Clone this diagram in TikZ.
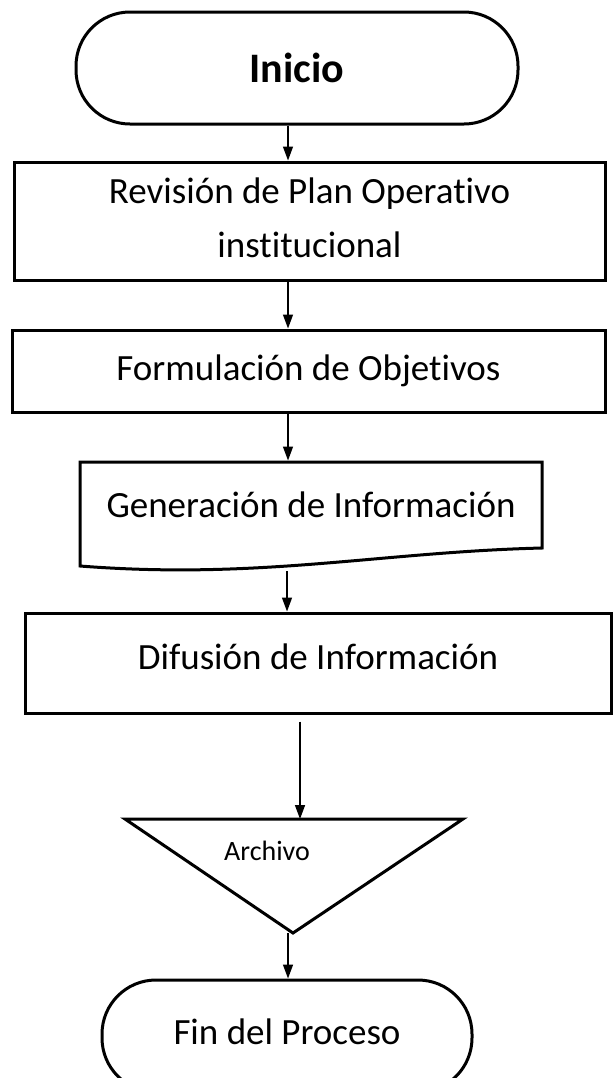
\documentclass[tikz,border=0pt]{standalone}
\usepackage{fontspec}
\setmainfont{Carlito}[Ligatures=NoCommon]
\usetikzlibrary{arrows.meta, positioning}

\begin{document}
\begin{tikzpicture}[x=0.5pt, y=-0.5pt,
    term/.style={rectangle, rounded corners=27pt, draw=black, line width=1.5pt, minimum height=56pt, inner sep=0pt, font=\fontsize{18.5pt}{22pt}\selectfont},
    box/.style={rectangle, draw=black, line width=1.5pt, inner sep=0pt, align=center, font=\fontsize{18.5pt}{22pt}\selectfont},
    shp/.style={draw=black, line width=1.5pt, line join=miter},
    arr/.style={-{Triangle[width=5pt, length=7pt]}, line width=0.75pt}
]
    \useasboundingbox (0,0) rectangle (613,1078);
    \coordinate (spine) at (288,0);

    % Start
    \node[term, minimum width=221pt, font=\fontsize{21pt}{24pt}\selectfont\bfseries] (inicio) at (297,68) {Inicio};

    % Process steps
    \node[box, minimum width=295.5pt, minimum height=59pt, text depth=3pt] (rev) at (309.5,221) {Revisión de Plan Operativo\\[5pt]institucional};
    \node[box, minimum width=296.5pt, minimum height=41pt] (form) at (308.5,371) {Formulación de Objetivos};

    % Document shape
    \draw[shp] (80,462) -- (542,462) -- (542,548) .. controls (380,552) and (260,580) .. (80,566) -- cycle;
    \node[box, draw=none, minimum width=231pt, minimum height=43pt] (gen) at (311,505) {Generación de Información};
    \coordinate (genbot) at (287,571);

    \node[box, minimum width=293pt, minimum height=50pt, text depth=6pt] (dif) at (318,663) {Difusión de Información};

    % Archive
    \draw[shp] (125,819) -- (463,819) -- (293,933) -- cycle;
    \node[font=\fontsize{14pt}{16pt}\selectfont] (arch) at (267,851) {Archivo};
    \coordinate (archtop) at (300,819);
    \coordinate (archbot) at (288,933);

    % End
    \node[term, minimum width=185pt, text depth=4pt] (fin) at (287,1036) {Fin del Proceso};

    % Arrows
    \draw[arr] (inicio.south -| spine) -- (rev.north -| spine);
    \draw[arr] (rev.south -| spine) -- (form.north -| spine);
    \draw[arr] (form.south -| spine) -- (gen.north -| spine);
    \draw[arr] (genbot) -- (dif.north -| genbot);
    \draw[arr, shorten <=3.5pt] (dif.south -| archtop) -- (archtop);
    \draw[arr] (archbot) -- (fin.north -| archbot);
\end{tikzpicture}
\end{document}
